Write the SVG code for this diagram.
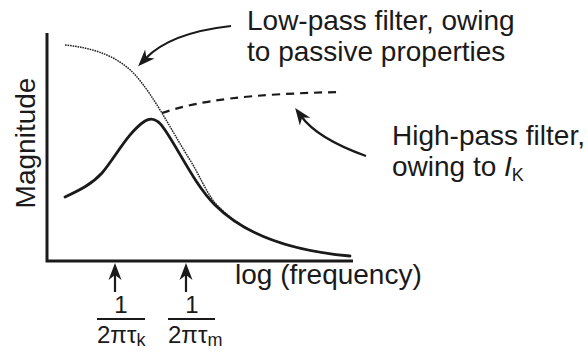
<svg xmlns="http://www.w3.org/2000/svg" width="588" height="352" viewBox="0 0 588 352">
<style>
text { font-family: "Liberation Sans", Arial, sans-serif; fill: #1a1a1a; }
.lbl { font-size: 28px; }
.frac { font-size: 24px; }
.sub { font-size: 18px; }
.ax { fill: none; stroke: #1a1a1a; stroke-width: 3; }
.solid { fill: none; stroke: #1a1a1a; stroke-width: 2.8; stroke-linecap: round; }
.dash { fill: none; stroke: #1a1a1a; stroke-width: 2.2; stroke-dasharray: 8 6; }
.dot { fill: none; stroke: #222; stroke-width: 1.5; stroke-dasharray: 1.6 0.9; }
.arr { fill: none; stroke: #1a1a1a; stroke-width: 2.2; }
.bar { stroke: #1a1a1a; stroke-width: 1.8; }
</style>
<defs>
<marker id="ah" markerUnits="userSpaceOnUse" markerWidth="28" markerHeight="16" viewBox="-18 -8 28 16" refX="-10" refY="0" orient="auto">
<path d="M0,0 L-17,-6.5 L-12,0 L-17,6.5 Z" fill="#1a1a1a"/>
</marker>
</defs>
<g id="axes">
<path class="ax" d="M47,33 L47,261 L353,261"/>
<text class="lbl" transform="translate(35,143) rotate(-90)" text-anchor="middle">Magnitude</text>
<text class="lbl" x="235" y="284">log (frequency)</text>
</g>
<g id="curves">
<path class="dot" d="M65,45 C95,48 120,57 137,77 C155,98 170,128 190,160 C200,176 205,190 215,203 C240,230 280,250 350,256"/>
<path class="dash" d="M162,113 C200,100 250,94 340,92"/>
<path class="solid" d="M65,197 C80,190 92,184 102,173 C115,158 128,132 145,121 C152,117 158,119 165,130 C180,152 195,185 215,205 C240,230 280,250 350,256"/>
</g>
<g id="lowpass-label">
<text class="lbl" x="247" y="30">Low-pass filter, owing</text>
<text class="lbl" x="247" y="61">to passive properties</text>
</g>
<g id="highpass-label">
<text class="lbl" x="392" y="145">High-pass filter,</text>
<text class="lbl" x="392" y="176">owing to <tspan font-style="italic">I</tspan><tspan class="sub" dy="5">K</tspan></text>
</g>
<g id="tau-k">
<text class="frac" x="121" y="313" text-anchor="middle">1</text>
<line class="bar" x1="97" y1="319" x2="145" y2="319"/>
<text class="frac" x="97" y="343">2πτ<tspan class="sub" dy="3">k</tspan></text>
</g>
<g id="tau-m">
<text class="frac" x="192" y="313" text-anchor="middle">1</text>
<line class="bar" x1="168" y1="319" x2="215" y2="319"/>
<text class="frac" x="168" y="343">2πτ<tspan class="sub" dy="3">m</tspan></text>
</g>
<g id="connectors">
<path class="arr" marker-end="url(#ah)" d="M231,26 C195,30 163,40 145,59"/>
<path class="arr" marker-end="url(#ah)" d="M366,156 C338,146 314,134 301,116"/>
<path class="arr" marker-end="url(#ah)" d="M115,292 L115,273"/>
<path class="arr" marker-end="url(#ah)" d="M186,292 L186,273"/>
</g>
</svg>
